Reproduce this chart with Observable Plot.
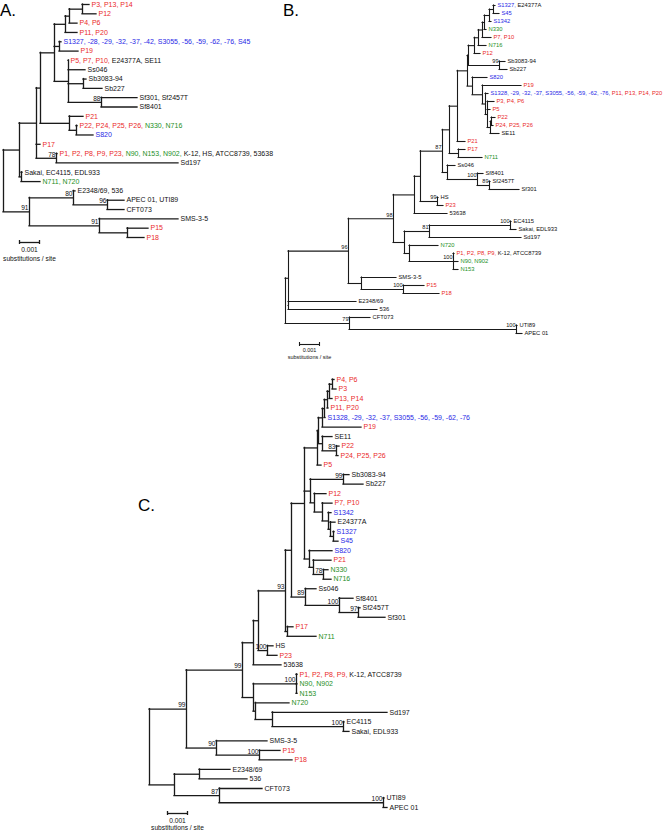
<!DOCTYPE html>
<html><head><meta charset="utf-8">
<script src="https://cdn.jsdelivr.net/npm/d3@7"></script>
<script src="https://cdn.jsdelivr.net/npm/@observablehq/plot@0.6"></script>
<style>
body{margin:0;background:#fff;}
#fig{position:relative;width:664px;height:831px;font-family:"Liberation Sans",Arial,Helvetica,sans-serif;overflow:hidden;background:#fff}
.panel{position:absolute}
.letter{position:absolute;font-size:17px;line-height:17px;color:#000}
</style></head><body><div id="fig"></div>
<script>
// Each row: [node, parent, branch length (substitutions/site), bootstrap]
const treeA = [
["r",null,0],
["n19","r",0.0008],
["n36","n19",0.00085],
["n40","n36",0.0002],
["n54","n40",0.0007],
["n65","n54",0.00055],
["n69","n65",0.0002],
["n82","n69",0.00065],
["P3, P13, P14","n82",0.00035],
["P12","n82",0.0007],
["P4, P6","n69",0.0004],
["P11, P20","n65",0.0006],
["n59","n54",0.00025],
["S1327, -28, -29, -32, -37, -42, S3055, -56, -59, -62, -76, S45","n59",0.0001],
["P19","n59",0.00095],
["n68","n54",0.0007],
["P5, P7, P10, E24377A, SE11","n68",0],
["Ss046","n68",0.00085],
["nSb","n68",0.00075],
["Sb3083-94","nSb",0.00015],
["Sb227","nSb",0.00095],
["nSf","n68",0.00165,"88"],
["Sf301, Sf2457T","nSf",0.0018],
["Sf8401","nSf",0.0018],
["n69b","n40",0.00145],
["P21","n69b",0.0007],
["n76","n69b",0.00035],
["P22, P24, P25, P26, N330, N716","n76",0.00005],
["S820","n76",0.00085],
["P17","n36",0.0002],
["n56","n36",0.001,"78"],
["P1, P2, P8, P9, P23, N90, N153, N902, K-12, HS, ATCC8739, 53638","n56",0.00005],
["Sd197","n56",0.0061],
["n21","n19",0.0001],
["Sakai, EC4115, EDL933","n21",0.00005],
["N711, N720","n21",0.00095],
["n29","r",0.0013,"91"],
["n73","n29",0.0022,"80"],
["E2348/69, 536","n73",0.0001],
["n107","n73",0.0017,"96"],
["APEC 01, UTI89","n107",0.00085],
["CFT073","n107",0.00085],
["n99","n29",0.0035,"91"],
["SMS-3-5","n99",0.00395],
["n127","n99",0.0014],
["P15","n127",0.00105],
["P18","n127",0.00085]
];

const treeB = [
["r",null,0],
["b1","r",0.00015],
["n348","b1",0.003,"96"],
["n393","n348",0.00225,"98"],
["n414","n393",0.00105],
["n420","n414",0.0003],
["n442","n420",0.0011,"87"],
["q2","n442",0.00035],
["q1","q2",0.0004],
["n8","q1",0.0005],
["n7","n8",0.00005],
["n6","n7",0.0003],
["n5","n6",0.0002],
["n4","n5",0.0002],
["n3","n4",0.0001],
["n2","n3",0.00025],
["n1","n2",0.0002],
["S1327, E24377A","n1",0.0001],
["S45","n1",0.0003],
["S1342","n2",0.0001],
["N330","n3",0.0001],
["P7, P10","n4",0.00045],
["N716","n5",0.0004],
["P12","n6",0.0003],
["nSb","n7",0.00155,"99"],
["Sb3083-94","nSb",0.0003],
["Sb227","nSb",0.0004],
["m6","n8",0.00025],
["S820","m6",0.00075],
["m5","m6",0.0005],
["P19","m5",0.00195],
["m4","m5",0.00015],
["S1328, -29, -32, -37, S3055, -56, -59, -62, -76, P11, P13, P14, P20","m4",0.00015],
["m3","m4",0.0001],
["P3, P4, P6","m3",0.00035],
["P5","m3",0.00015],
["m2","m3",0.00015],
["m1","m2",0.00005],
["P22","m1",0.0002],
["P24, P25, P26","m1",0.0001],
["SE11","m2",0.00045],
["P21","q1",0.0004],
["n458","q2",0.00045],
["P17","n458",0.00035],
["N711","n458",0.0012],
["n447","n442",0.00025],
["Ss046","n447",0.0004],
["n477","n447",0.0015,"100"],
["Sf8401","n477",0.0003],
["n489","n477",0.0006,"89"],
["Sf2457T","n489",0.00005],
["Sf301","n489",0.0015],
["n437","n420",0.00085,"99"],
["HS","n437",0.00005],
["P23","n437",0.0003],
["53638","n414",0.00165],
["n404","n393",0.00055],
["n429","n404",0.00125,"81"],
["n510","n429",0.00405,"100"],
["EC4115","n510",0.00005],
["Sakai, EDL933","n510",0.0003],
["Sd197","n429",0.0046],
["n409","n404",0.00025],
["N720","n409",0.00145],
["n453","n409",0.0022,"100"],
["P1, P2, P8, P9, K-12, ATCC8739","n453",0.00005],
["N90, N902","n453",0.00025],
["N153","n453",0.00025],
["n361","n348",0.00065],
["SMS-3-5","n361",0.00175],
["n403","n361",0.0021,"100"],
["P15","n403",0.00105],
["P18","n403",0.0018],
["nX","b1",0],
["E2348/69","nX",0.0034],
["536","nX",0.00445],
["n79","r",0.0032,"79"],
["CFT073","n79",0.00105],
["n516","n79",0.00835,"100"],
["UTI89","n516",0.00005],
["APEC 01","n516",0.0003]
];

const treeC = [
["r",null,0],
["n186","r",0.00185,"99"],
["k3","n186",0.0028,"99"],
["k2","k3",0.00055],
["k0","k2",0.00025],
["f1","k0",0.00135,"93"],
["c11","f1",0.0003],
["c10","c11",0.00065],
["c9","c10",0.00065],
["c8","c9",0.00005],
["c5","c8",0.0002],
["c4","c5",0.0001],
["c3","c4",0.00015],
["c2","c3",0.0001],
["c1","c2",0.00015],
["P4, P6","c1",0.0001],
["P3","c1",0.0002],
["P13, P14","c2",0.00015],
["P11, P20","c3",0.00005],
["S1328, -29, -32, -37, S3055, -56, -59, -62, -76","c4",0.00005],
["P19","c5",0.00195],
["c6","c8",0.0002],
["SE11","c6",0.0005],
["c7","c6",0.0007,"83"],
["P22","c7",0.00015],
["P24, P25, P26","c7",0.0001],
["P5","c9",0.0002],
["d6","c10",0.0003],
["nSb","d6",0.00165,"99"],
["Sb3083-94","nSb",0.0003],
["Sb227","nSb",0.001],
["d5","d6",0.0002],
["P12","d5",0.0006],
["d4","d5",0.0004],
["P7, P10","d4",0.0005],
["d3","d4",0.0003],
["S1342","d3",0.00015],
["d2","d3",0.0001],
["E24377A","d2",0.00025],
["d1","d2",0.00015],
["S1327","d1",0.00005],
["S45","d1",0.00025],
["e3","c10",0.00025],
["S820","e3",0.00115],
["e2","e3",0.0002],
["P21","e2",0.0009],
["e1","e2",0.0005,"78"],
["N330","e1",0.00025],
["N716","e1",0.0004],
["g3","c11",0.0007,"89"],
["Ss046","g3",0.00055],
["g2","g3",0.0017,"100"],
["Sf8401","g2",0.0007],
["g1","g2",0.00095,"97"],
["Sf2457T","g1",0.0001],
["Sf301","g1",0.00135],
["h1","f1",0.0001],
["P17","h1",0.0003],
["N711","h1",0.00145],
["k1","k0",0.00045,"100"],
["HS","k1",0.0003],
["P23","k1",0.0005],
["53638","k2",0.0014],
["m3","k3",0.00055],
["p1n","m3",0.00215,"100"],
["P1, P2, P8, P9, K-12, ATCC8739","p1n",0.00005],
["N90, N902","p1n",0.00005],
["N153","p1n",0.00005],
["m2","m3",0.0001],
["N720","m2",0.0017],
["m1","m2",0.00085],
["Sd197","m1",0.00575],
["ecn","m1",0.00355,"100"],
["EC4115","ecn",0.00005],
["Sakai, EDL933","ecn",0.0003],
["n216","n186",0.0015,"90"],
["SMS-3-5","n216",0.00255],
["n259","n216",0.00215,"100"],
["P15","n259",0.00105],
["P18","n259",0.00165],
["n174","r",0.00125],
["n199","n174",0.00125],
["E2348/69","n199",0.00155],
["536","n199",0.0024],
["n219","n174",0.00225,"87"],
["CFT073","n219",0.00215],
["n383","n219",0.0082,"100"],
["UTI89","n383",0.00005],
["APEC 01","n383",0.0002]
];

const panelLetters = ["A.", "B.", "C."];
const scaleBarLength = 0.001;
const scaleBarLabels = ["0.001", "substitutions / site"];

// layout (page pixels)
const layout = [
  {tree: treeA, left: 0,   top: 0,   width: 280, height: 265, rootX: 3,   y0: 4,   y1: 237, font: 7,   boot: 6.6, lw: 1.3, bar: {x: 0.0008, dy: 5,  t1: 7, t2: 16}, letter: [0, 2]},
  {tree: treeB, left: 278, top: 0,   width: 386, height: 362, rootX: 285, y0: 5,   y1: 333, font: 5.8, boot: 5.6, lw: 1.1, bar: {x: 0.0007, dy: 11, t1: 6, t2: 13}, letter: [283, 2]},
  {tree: treeC, left: 95,  top: 362, width: 425, height: 469, rootX: 149, y0: 379, y1: 807, font: 7,   boot: 6.6, lw: 1.3, bar: {x: 0.0009, dy: 6,  t1: 7, t2: 14}, letter: [138, 497]}
];
const PX_PER_UNIT = 20000; // pixels per substitution/site

const COLORS = {P: "#ea2a2a", N: "#1e8f1e", S: "#2828e6", other: "#111"};
function tokenColor(t) {
  if (/^P\d/.test(t)) return COLORS.P;
  if (/^N\d/.test(t)) return COLORS.N;
  if (/^(S\d|-\d)/.test(t)) return COLORS.S;
  return COLORS.other;
}

function buildTree(rows) {
  const map = new Map();
  for (const [id, parent, len, support] of rows) map.set(id, {id, parentId: parent, len, support, children: []});
  let root;
  for (const n of map.values()) {
    if (n.parentId == null) root = n;
    else { n.parent = map.get(n.parentId); n.parent.children.push(n); }
  }
  const leaves = [], internals = [], all = [];
  (function walk(n, x) {
    n.x = x; all.push(n);
    if (n.children.length === 0) { n.y = leaves.length; leaves.push(n); }
    else {
      for (const c of n.children) walk(c, x + c.len);
      n.ya = n.children[0].y; n.yb = n.children[n.children.length - 1].y;
      n.y = (n.ya + n.yb) / 2;
      internals.push(n);
    }
  })(root, 0);
  return {root, leaves, internals, all};
}

const fig = document.getElementById("fig");

layout.forEach((L, i) => {
  const T = buildTree(L.tree);
  const n = T.leaves.length;
  const rx = L.rootX - L.left;
  const y0 = L.y0 - L.top, y1 = L.y1 - L.top;
  const step = (y1 - y0) / (n - 1);
  const sbY = (n - 1) + L.bar.dy / step;
  const sbX1 = L.bar.x, sbX2 = L.bar.x + scaleBarLength;
  const branches = T.all.filter(d => d.parent);
  const boots = T.internals.filter(d => d.support);
  const stroke = "#1a1a1a";

  const svg = Plot.plot({
    width: L.width, height: L.height, margin: 0,
    x: {domain: [-rx / PX_PER_UNIT, (L.width - rx) / PX_PER_UNIT], range: [0, L.width], axis: null},
    y: {domain: [0, n - 1], range: [y0, y1], axis: null},
    style: {fontFamily: '"Liberation Sans", Arial, Helvetica, sans-serif', background: "transparent", overflow: "visible"},
    marks: [
      Plot.ruleY(branches, {y: "y", x1: d => d.parent.x, x2: "x", stroke, strokeWidth: L.lw, strokeLinecap: "square"}),
      Plot.ruleX(T.internals, {x: "x", y1: "ya", y2: "yb", stroke, strokeWidth: L.lw, strokeLinecap: "square"}),
      Plot.text(T.leaves, {x: "x", y: "y", text: "id", textAnchor: "start", dx: 2, fontSize: L.font, fill: COLORS.other}),
      Plot.text(boots, {x: "x", y: "y", text: "support", textAnchor: "end", dx: -1, dy: -3.8, fontSize: L.boot, fill: COLORS.other}),
      Plot.ruleY([0], {x1: sbX1, x2: sbX2, y: sbY, stroke, strokeWidth: L.lw}),
      Plot.ruleX([sbX1, sbX2], {x: d => d, y1: sbY - 2 / step, y2: sbY + 2 / step, stroke, strokeWidth: L.lw}),
      Plot.text([scaleBarLabels[0]], {x: (sbX1 + sbX2) / 2, y: sbY, dy: L.bar.t1, text: d => d, fontSize: L.font * 0.95, fill: COLORS.other}),
      Plot.text([scaleBarLabels[1]], {x: (sbX1 + sbX2) / 2, y: sbY, dy: L.bar.t2, text: d => d, fontSize: L.font * 0.95, fill: COLORS.other})
    ]
  });
  svg.classList.add("panel");
  svg.style.left = L.left + "px";
  svg.style.top = L.top + "px";

  // colour each strain token inside the labels
  svg.querySelectorAll("text").forEach(t => {
    const s = t.textContent;
    if (!s.includes(",") && tokenColor(s) === COLORS.other) return;
    const parts = s.split(", ");
    t.textContent = "";
    parts.forEach((p, j) => {
      const ts = document.createElementNS("http://www.w3.org/2000/svg", "tspan");
      ts.setAttribute("fill", tokenColor(p));
      ts.textContent = p + (j < parts.length - 1 ? ", " : "");
      t.appendChild(ts);
    });
  });
  fig.appendChild(svg);

  const lab = document.createElement("div");
  lab.className = "letter";
  lab.textContent = panelLetters[i];
  lab.style.left = L.letter[0] + "px";
  lab.style.top = L.letter[1] + "px";
  fig.appendChild(lab);
});
</script>
</body></html>
